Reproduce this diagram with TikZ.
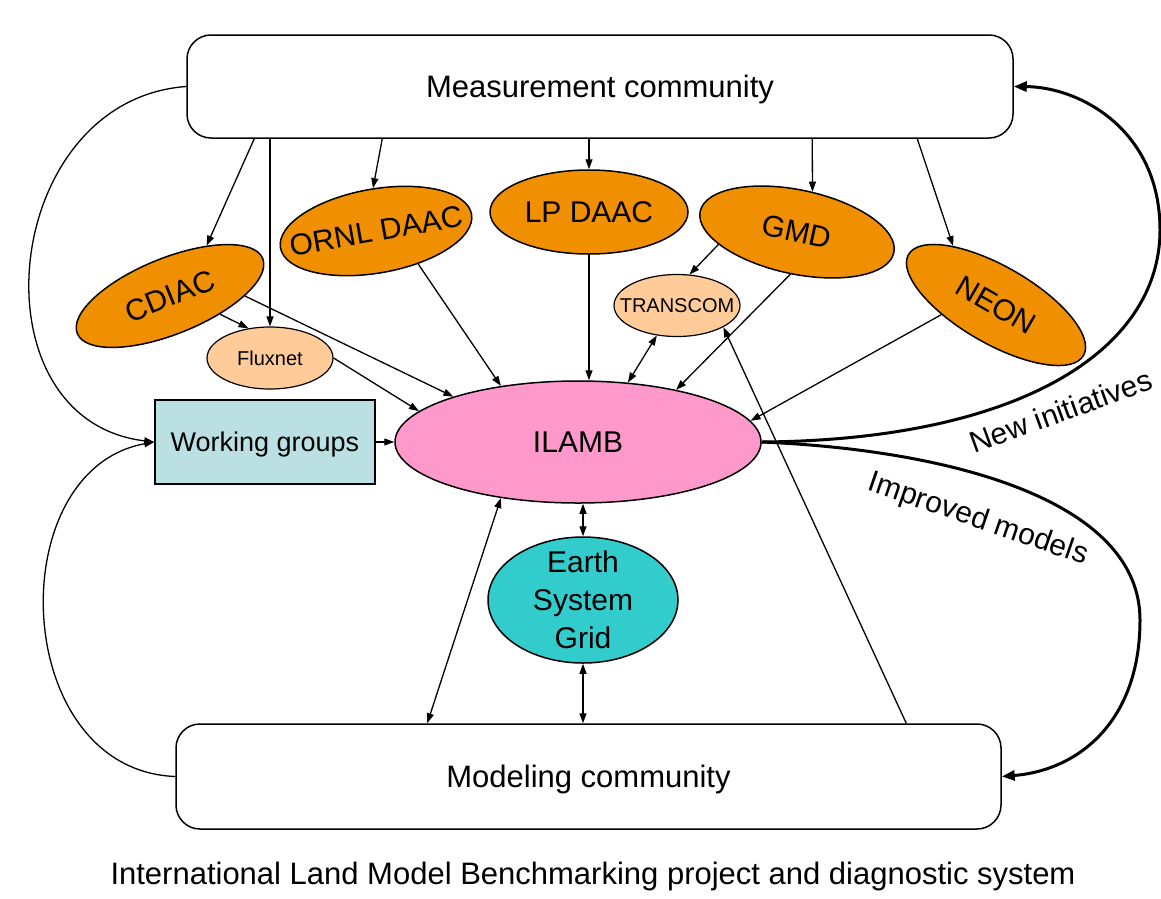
\documentclass[tikz,border=0pt]{standalone}
\usepackage{fontspec}
\setmainfont{Liberation Sans}
\usepackage[dvipsnames]{xcolor}
\usepackage{tikz}
\usetikzlibrary{shapes.geometric,arrows.meta}
\definecolor{daacorange}{HTML}{F09000}
\definecolor{peach}{HTML}{FFCC99}
\definecolor{ilambpink}{HTML}{FF99CC}
\definecolor{esgteal}{HTML}{33CCCC}
\definecolor{groupblue}{HTML}{BBE0E3}

\begin{document}
\begin{tikzpicture}[x=1pt,y=-1pt,
  >={Triangle[length=10pt,width=7pt]},
  box/.style={draw,line width=1.5pt,rounded corners=24pt,minimum width=826pt,minimum height=103pt,text depth=1pt,font=\fontsize{31}{36}\selectfont},
  hub/.style={draw,ellipse,line width=1.5pt,fill=ilambpink,minimum width=366pt,minimum height=122pt,inner sep=0pt,font=\fontsize{30}{36}\selectfont},
  daac/.style={draw,ellipse,line width=1.5pt,fill=daacorange,minimum width=198pt,minimum height=84pt,inner xsep=-20pt,inner ysep=0pt,font=\fontsize{30}{36}\selectfont},
  partner/.style={draw,ellipse,line width=1.2pt,fill=peach,minimum width=126pt,minimum height=62pt,inner xsep=-20pt,inner ysep=0pt,font=\fontsize{20}{24}\selectfont},
  link/.style={->,line width=1.3pt},
  twoway/.style={<->,line width=1.3pt},
  feedback/.style={-{Triangle[length=13pt,width=10pt]},line width=3pt},
  loopnote/.style={font=\fontsize{30}{36}\selectfont}]
\useasboundingbox[fill=white] (0,0) rectangle (1161,898);
%
\node[box] (meas) at (600,86.5) {Measurement community};
\node[box,minimum width=825pt,minimum height=105pt] (model) at (588.5,776.5) {Modeling community};
\node[draw,line width=1.5pt,fill=groupblue,minimum width=220pt,minimum height=84pt,text depth=1pt,font=\fontsize{27}{32}\selectfont] (wg) at (265,442) {Working groups};
\node[hub] (ilamb) at (578,442) {ILAMB};
\node[draw,ellipse,line width=1.5pt,fill=esgteal,minimum width=190pt,minimum height=126pt,inner sep=-6pt,align=center,font=\fontsize{30}{38}\selectfont] (esg) at (583,600) {Earth\\System\\Grid};
%
\node[daac,rotate=22,minimum width=200pt,minimum height=76pt] (cdiac) at (170,296) {CDIAC};
\node[daac,rotate=10,minimum width=194pt] (ornl) at (376,231) {ORNL DAAC};
\node[daac] (lpdaac) at (589,212) {LP DAAC};
\node[daac,rotate=-12] (gmd) at (797,232) {GMD};
\node[daac,rotate=-30,minimum width=202pt,minimum height=77pt] (neon) at (996,305) {NEON};
\node[partner] (fluxnet) at (270,358) {Fluxnet};
\node[partner] (transcom) at (677,305.5) {TRANSCOM};
%
\draw[link] ([xshift=68pt]meas.south west) -- (cdiac.32);
\draw[link] (meas.south -| fluxnet.north) -- (fluxnet.north);
\draw[link] ([xshift=196pt]meas.south west) -- (ornl.84);
\draw[link] (meas.south -| lpdaac.north) -- (lpdaac.north);
\draw[link] ([xshift=626pt]meas.south west) -- (gmd.81);
\draw[link] ([xshift=731pt]meas.south west) -- (neon.156);
%
\draw[link] (cdiac.-42) -- (fluxnet.126);
\draw[link] (cdiac.-22) -- (ilamb.160);
\draw[link] (fluxnet.east) -- (ilamb.169);
\draw[link] (ornl.-48) -- (ilamb.144);
\draw[link] (lpdaac.south) -- (lpdaac.south |- ilamb.north);
\draw[link] (gmd.201) -- (transcom.68);
\draw[link] (gmd.273) -- (ilamb.28);
\draw[link] (neon.220) -- (ilamb.7);
\draw[twoway] (transcom.236) -- (ilamb.50);
%
\draw[link] ([xshift=731pt]model.north west) -- (transcom.-25);
\draw[link] (wg) -- (ilamb);
\draw[twoway] (ilamb.216) -- ([xshift=252pt]model.north west);
\draw[twoway] (esg.north |- ilamb.south) -- (esg.north);
\draw[twoway] (esg.south) -- (esg.south |- model.north);
%
\draw[link] (meas.west) .. controls (0,100) and (-30,420) .. (wg.west);
\draw[link] (model.west) .. controls (10,770) and (0,470) .. (wg.west);
\draw[feedback] (ilamb.east) .. controls (1020,440) and (1160,350) .. (1160,230) .. controls (1160,130) and (1080,87) .. (meas.east);
\draw[feedback] (ilamb.east) .. controls (950,450) and (1140,500) .. (1140,620) .. controls (1140,720) and (1080,770) .. (model.east);
%
\node[loopnote,rotate=20] (newinit) at (1061,411) {New initiatives};
\node[loopnote,rotate=-19] (improved) at (978,520) {Improved models};
\node[font=\fontsize{31}{36}\selectfont] (caption) at (593,876) {International Land Model Benchmarking project and diagnostic system};
\end{tikzpicture}
\end{document}
